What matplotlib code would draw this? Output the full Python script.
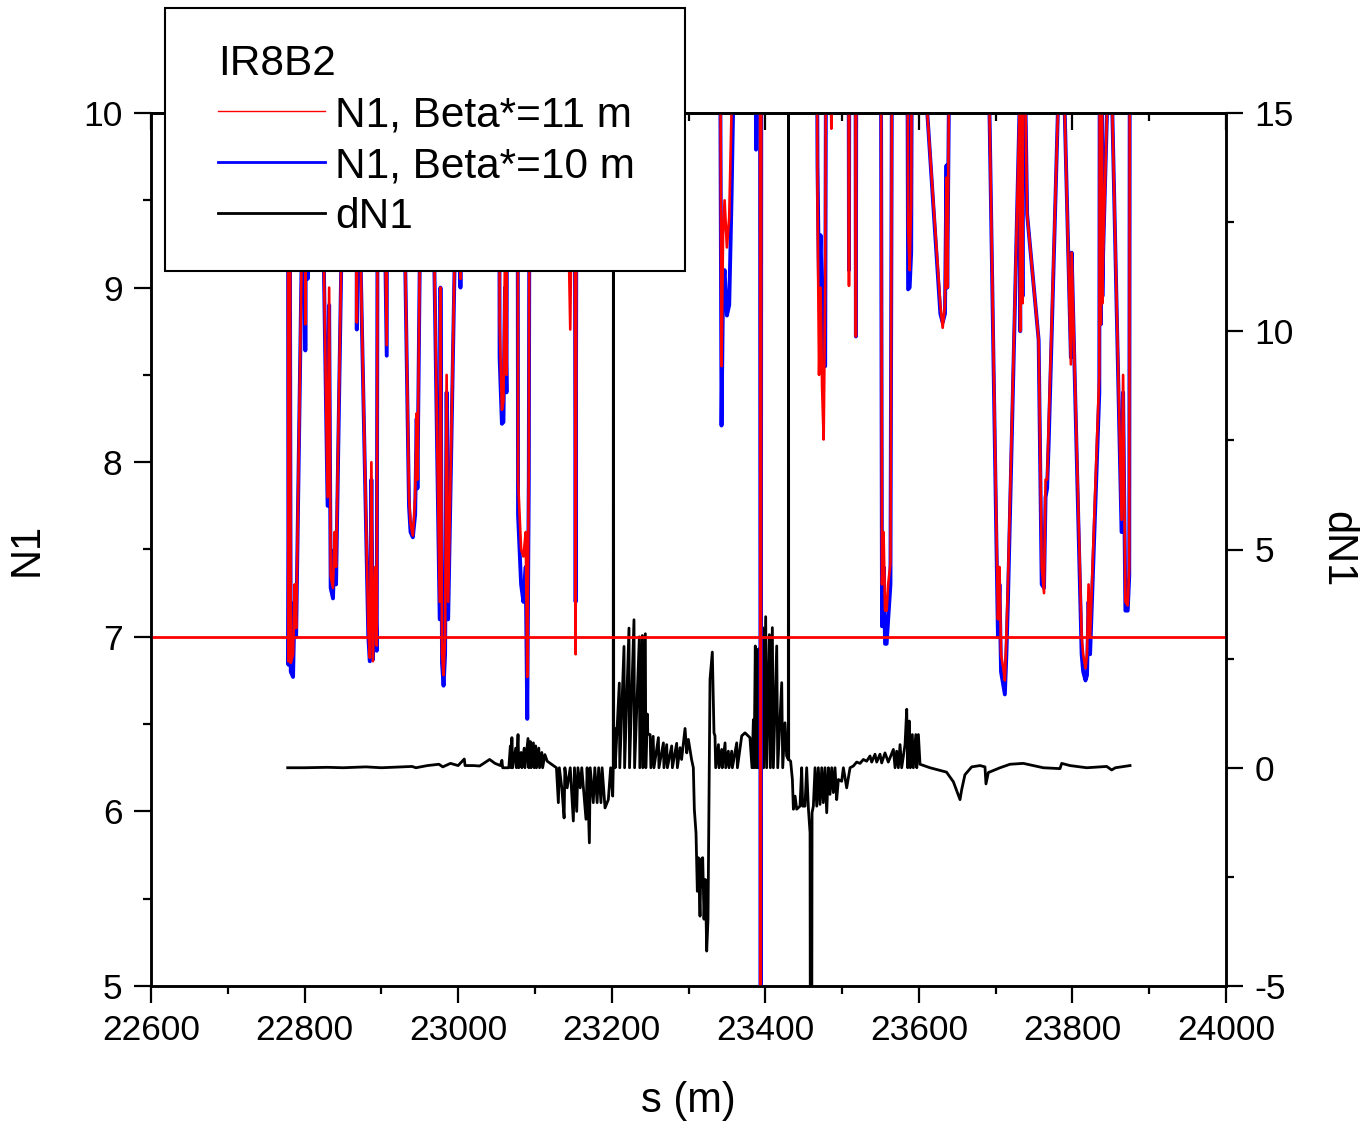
import matplotlib
matplotlib.use('Agg')
import matplotlib.pyplot as plt
from matplotlib.lines import Line2D
from matplotlib.patches import Rectangle
from matplotlib.ticker import MultipleLocator

plt.rcParams['font.family'] = ['Liberation Sans', 'DejaVu Sans']
plt.rcParams['axes.unicode_minus'] = False

# N1 along s; values above 10 are off scale (clipped at the top)
s_n1 = [
    22778, 22779, 22781, 22782, 22785, 22787, 22789, 22799, 22800, 22801, 22802, 22804, 22805,
    22822, 22830, 22832, 22834, 22837, 22839, 22841, 22851, 22852,
    22867, 22868, 22869, 22883, 22885, 22887, 22889, 22892, 22894, 22896, 22907, 22908,
    22928, 22936, 22938, 22941, 22944, 22946, 22947, 22952, 22953,
    22966, 22976, 22977, 22979, 22981, 22983, 22985, 22987, 22999, 23000, 23003, 23004,
    23053, 23054, 23057, 23059, 23061, 23063, 23065,
    23077, 23078, 23082, 23085, 23088, 23090, 23092, 23094,
    23138, 23141, 23146, 23149, 23151, 23153, 23155,
    23340, 23343, 23345, 23347, 23350, 23353, 23356, 23358, 23360,
    23387, 23388, 23389, 23393, 23394, 23395,
    23466, 23468, 23470, 23472, 23474, 23476, 23478, 23480, 23486, 23488,
    23508, 23509, 23510, 23517, 23518, 23519,
    23550, 23552, 23554, 23556, 23558, 23560, 23563, 23566,
    23584, 23586, 23588, 23590, 23592,
    23611, 23628, 23631, 23634, 23636, 23637, 23639, 23640,
    23692, 23703, 23705, 23707, 23710, 23712, 23714, 23716, 23731, 23732, 23733, 23735, 23736,
    23739, 23741, 23756, 23760, 23763, 23765, 23767, 23769, 23781, 23782,
    23790, 23798, 23799, 23812, 23814, 23817, 23819, 23821, 23823, 23835, 23836, 23837, 23838,
    23839, 23840, 23845, 23846,
    23852, 23864, 23866, 23869, 23872, 23874, 23875,
]
n1_beta11 = [
    12, 6.86, 9.3, 6.85, 6.90, 7.30, 7.05, 10.0, 12, 8.79, 12, 9.2, 12,
    10.0, 7.8, 9.0, 7.35, 7.28, 7.6, 7.4, 10.0, 12,
    12, 8.80, 10.0, 7.05, 6.88, 8.0, 6.86, 7.4, 6.95, 12, 8.67, 12,
    10.0, 7.8, 7.65, 7.58, 7.8, 8.28, 7.9, 10.0, 12,
    10.0, 7.2, 9.0, 6.9, 6.78, 7.0, 8.5, 7.2, 10.0, 12, 9.05, 12,
    12, 8.8, 8.30, 8.35, 9.2, 8.5, 12,
    12, 7.9, 7.5, 7.46, 7.6, 6.77, 8.0, 12,
    12, 10.0, 8.76, 10.0, 12, 6.90, 12,
    12, 8.55, 9.3, 9.5, 9.23, 9.4, 10.0, 12, 12,
    12, 12, 12, 12, 4.0, 12,
    12, 9.5, 8.5, 9.0, 8.43, 8.13, 9.0, 12, 9.91, 12,
    12, 9.01, 12, 12, 8.72, 12,
    12, 7.3, 7.6, 7.15, 7.15, 7.3, 7.42, 12,
    12, 9.35, 9.1, 9.5, 12,
    10.0, 8.9, 8.77, 8.9, 9.63, 9.0, 10.0, 12,
    10.0, 7.1, 7.4, 6.9, 6.82, 6.75, 7.0, 7.3, 10.0, 8.75, 12, 8.91, 12,
    10.0, 9.42, 8.7, 7.4, 7.25, 7.9, 7.9, 8.2, 10.0, 12,
    10.0, 8.56, 9.2, 7.0, 6.9, 6.82, 6.9, 7.3, 7.0, 8.5, 12, 8.79, 12,
    8.91, 9.2, 10.0, 12,
    10.0, 7.67, 8.5, 7.2, 7.18, 7.4, 12,
]
n1_beta10 = [
    12, 6.84, 9.1, 6.80, 6.77, 7.20, 7.00, 10.0, 12, 8.64, 12, 9.05, 12,
    10.0, 7.75, 8.9, 7.28, 7.22, 7.5, 7.3, 10.0, 12,
    12, 8.76, 10.0, 7.0, 6.86, 7.9, 6.87, 7.3, 6.92, 12, 8.61, 12,
    10.0, 7.75, 7.6, 7.57, 7.7, 8.25, 7.85, 10.0, 12,
    10.0, 7.1, 9.0, 6.85, 6.72, 6.9, 8.4, 7.1, 10.0, 12, 9.0, 12,
    12, 8.6, 8.22, 8.23, 9.0, 8.4, 12,
    12, 7.7, 7.3, 7.20, 7.4, 6.53, 7.9, 12,
    12, 12, 12, 12, 12, 7.20, 12,
    12, 8.21, 9.0, 9.1, 8.84, 8.9, 9.5, 10.0, 12,
    12, 9.79, 12, 12, 4.0, 12,
    12, 9.7, 9.0, 9.3, 8.9, 8.55, 8.55, 12, 12, 12,
    12, 9.1, 12, 12, 8.72, 12,
    12, 7.06, 7.4, 6.96, 6.96, 7.1, 7.3, 12,
    12, 8.99, 9.0, 9.2, 12,
    10.0, 8.85, 8.8, 8.85, 9.7, 9.0, 10.0, 12,
    10.0, 7.0, 7.3, 6.8, 6.72, 6.67, 6.9, 7.2, 10.0, 8.75, 12, 8.95, 12,
    10.0, 9.42, 8.7, 7.3, 7.28, 7.8, 7.85, 8.1, 10.0, 12,
    10.0, 8.6, 9.2, 6.9, 6.8, 6.75, 6.78, 7.2, 6.9, 8.4, 12, 8.79, 12,
    8.95, 9.2, 10.0, 12,
    10.0, 7.6, 8.4, 7.15, 7.15, 7.35, 12,
]

# dN1 along s (right axis)
s_dn1 = [
    22778, 22800, 22830, 22850, 22880, 22900, 22940, 22945, 22960, 22975, 22980, 22990,
    23000, 23008, 23009, 23020, 23028, 23041, 23048, 23055, 23057, 23058, 23066, 23068,
    23069, 23070, 23071, 23075, 23076, 23078, 23079, 23082, 23083, 23086, 23087, 23091,
    23092, 23094, 23095, 23098, 23099, 23101, 23102, 23105, 23106, 23109, 23110, 23113,
    23116, 23128,
    23130.5, 23131.8, 23135, 23138, 23139, 23142, 23146, 23150, 23151.5, 23154.4, 23156,
    23159, 23161, 23166.5, 23168, 23170.9, 23172, 23176, 23178, 23181, 23183, 23186,
    23187.5, 23191.3, 23195.6, 23198.6, 23201.3, 23202.0, 23202.2, 23202.6,
    23203.5, 23204.5, 23209.9, 23210.5, 23216.0, 23216.8, 23222.5, 23223.2, 23229.0,
    23229.8, 23236.0, 23236.6, 23239.9, 23240.5, 23243.8, 23244.4, 23246.4, 23247.0,
    23250, 23251, 23254, 23255, 23260.8, 23261.5, 23267.3, 23268, 23271.6, 23272.5,
    23278.1, 23279, 23284.6, 23285.5, 23289, 23291, 23295.5, 23297.7, 23299.8, 23304,
    23306.3,
    23307.6, 23309.8, 23311.5, 23312.8, 23315.0, 23316.3, 23318.5, 23320.2, 23322,
    23323.7, 23325.4, 23328.0, 23331.0, 23333.2,
    23334.5, 23335.4, 23339, 23339.8, 23343.2, 23344, 23347.6, 23348.5, 23351.9, 23352.8,
    23356.3, 23357.1, 23362.8, 23363.7, 23369.3, 23373.6, 23380, 23382.7,
    23384.5, 23385.4, 23387.0, 23388.3, 23389.7, 23391, 23393.1, 23394.4, 23396.6,
    23397.9, 23400.5, 23401.8, 23405.3, 23406.6, 23409.2, 23410.5, 23414.9, 23416.2,
    23421.4, 23422.7, 23425.7, 23427.8, 23430.0, 23430.2, 23430.5,
    23433, 23435.3, 23436.6, 23438.8, 23440.9, 23445.2, 23447.4, 23448.7, 23451.7,
    23453.9, 23456.1, 23458.3, 23459.6, 23460.9, 23462.6, 23464.8, 23467, 23469.1,
    23471.3, 23473.5, 23475.6, 23477.8, 23480, 23482.2, 23484.3, 23486.5, 23488.7,
    23490.8, 23493, 23495.2, 23499.5, 23501.7, 23506, 23510.4,
    23514.7, 23519, 23523.4, 23527.7, 23532, 23536.4, 23538.6, 23542.9, 23545.1, 23549.4,
    23551.6, 23555.9, 23560.2, 23566.8, 23569, 23571.1, 23573.3, 23575.5, 23577.6, 23582,
    23584.2, 23585.5, 23587.6, 23588.9, 23591.5, 23592.8, 23596, 23597.3, 23599.4,
    23601.5, 23614.5,
    23627.5, 23636, 23644.9, 23653.6, 23655.8, 23660, 23668.8, 23679.6, 23686.1, 23687.4,
    23690.5, 23705.7, 23718.7, 23736, 23762, 23783.8, 23786, 23796.8, 23818.6, 23844.6,
    23851.1, 23856, 23875,
]
dn1 = [
    0.0, 0.0, 0.01, 0.0, 0.02, 0.0, 0.03, 0.0, 0.05, 0.08, 0.02, 0.1,
    0.05, 0.2, 0.05, 0.05, 0.04, 0.19, 0.10, 0.05, 0.17, 0.0, 0.0, 0.50,
    0.0, 0.69, 0.0, 0.45, 0.0, 0.76, 0.0, 0.35, 0.0, 0.45, 0.0, 0.67,
    0.0, 0.6, 0.0, 0.57, 0.0, 0.5, 0.0, 0.45, 0.0, 0.35, 0.0, 0.3,
    0.15, 0.0,
    -0.8, 0.0, -0.46, -1.15, 0.0, -0.46, 0.0, -1.22, 0.0, -1.0, 0.0,
    -0.46, 0.0, -1.18, 0.0, -1.72, 0.0, -0.8, 0.0, -0.8, 0.0, -0.8,
    0.0, -0.92, -0.73, 0.0, -0.65, 0.0, 20.0, 0.0,
    0.91, 0.0, 1.94, 0.0, 2.78, 0.0, 3.2, 0.0, 3.39,
    0.0, 3.0, 0.0, 3.03, 0.0, 3.07, 0.0, 1.23, 0.77,
    0.76, 0.0, 0.72, 0.0, 0.69, 0.0, 0.57, 0.0, 0.53, 0.0,
    0.5, 0.0, 0.56, 0.0, 0.46, 0.19, 0.9, 0.34, 0.65, 0.19,
    0.0,
    -0.95, -1.5, -2.83, -2.06, -3.4, -2.1, -2.06, -3.47, -2.56,
    -4.2, -3.47, 2.02, 2.65, 0.8,
    0.73, 0.0, 0.53, 0.0, 0.42, 0.0, 0.57, 0.0, 0.38, 0.0,
    0.38, 0.0, 0.57, 0.0, 0.73, 0.8, 0.69, 0.0,
    1.1, 0.0, 2.79, 0.0, 2.71, 0.0, 2.75, 0.0, 3.21,
    0.0, 3.46, 0.0, 3.05, 0.0, 3.21, 0.0, 2.79, 0.0,
    1.95, 0.0, 1.03, 0.27, 0.19, 20.0, 0.19,
    0.15, -0.27, -0.95, -0.65, -0.95, -0.88, 0.0, -0.88, -0.88,
    0.0, -0.92, -1.49, -20.0, -1.03, -0.88, 0.0, -0.88, 0.0,
    -0.84, 0.0, -0.8, 0.0, -1.03, 0.0, -0.61, 0.0, -0.57,
    0.0, -0.73, -0.27, -0.31, 0.0, -0.46, 0.0,
    0.04, 0.13, 0.1, 0.19, 0.15, 0.27, 0.13, 0.31, 0.13, 0.31,
    0.11, 0.34, 0.13, 0.42, 0.0, 0.38, 0.0, 0.53, 0.0, 0.53,
    1.34, 0.0, 1.07, 0.0, 0.76, 0.0, 0.76, 0.0, 0.76,
    0.08, 0.0,
    -0.06, -0.1, -0.32, -0.73, -0.5, -0.16, 0.02, 0.05, 0.02, -0.37,
    -0.11, 0.0, 0.08, 0.1, 0.0, -0.02, 0.1, 0.05, 0.0, 0.03,
    -0.05, 0.0, 0.05,
]

n1_limit = 7.0

fig = plt.figure(figsize=(13.63, 11.24), dpi=100)
ax = fig.add_axes([151/1363, 1-986/1124, 1075/1363, 873/1124])
ax2 = ax.twinx()
ax.set_zorder(ax2.get_zorder() + 1)
ax.patch.set_visible(False)

ax2.plot(s_dn1, dn1, color='black', lw=2.0)
ax.plot(s_n1, n1_beta10, color='#0000ff', lw=2.8)
ax.plot(s_n1, n1_beta11, color='#ff0000', lw=1.9)
ax.axhline(n1_limit, color='#ff0000', lw=2.0)

ax.set_xlim(22600, 24000)
ax.set_ylim(5, 10)
ax2.set_ylim(-5, 15)

ax.xaxis.set_major_locator(MultipleLocator(200))
ax.xaxis.set_minor_locator(MultipleLocator(100))
ax.yaxis.set_major_locator(MultipleLocator(1))
ax.yaxis.set_minor_locator(MultipleLocator(0.5))
ax2.yaxis.set_major_locator(MultipleLocator(5))
ax2.yaxis.set_minor_locator(MultipleLocator(2.5))

for a in (ax, ax2):
    for sp in a.spines.values():
        sp.set_linewidth(1.8)
    a.tick_params(which='major', length=12.5, width=1.6, labelsize=25.5, pad=8)
    a.tick_params(which='minor', length=6, width=1.6)
ax.tick_params(axis='both', which='both', direction='out')
ax2.tick_params(axis='y', which='both', direction='out')

top = ax.secondary_xaxis('top')
top.xaxis.set_major_locator(MultipleLocator(200))
top.xaxis.set_minor_locator(MultipleLocator(100))
top.tick_params(which='major', direction='in', length=12.5, width=1.6, labeltop=False)
top.tick_params(which='minor', direction='in', length=6, width=1.6)
top.spines['top'].set_linewidth(1.8)

ax.set_xlabel('s (m)', fontsize=30, labelpad=24)
ax.set_ylabel('N1', fontsize=30, labelpad=26)
ax2.set_ylabel('dN1', fontsize=30, rotation=270, labelpad=46)

# legend frame drawn as its own box (white, black edge)
box = Rectangle((165/1363, 1-271/1124), 520/1363, 263/1124, transform=fig.transFigure,
                facecolor='white', edgecolor='black', lw=1.5, zorder=4, clip_on=False)
ax.add_artist(box)

handles = [
    Line2D([], [], color='#ff0000', lw=1.0),
    Line2D([], [], color='#0000ff', lw=2.0),
    Line2D([], [], color='black', lw=2.0),
]
labels = ['N1, Beta*=11 m', 'N1, Beta*=10 m', 'dN1']
leg = ax.legend(handles, labels, title='IR8B2', loc='upper left',
                bbox_to_anchor=(218/1363, 1-44/1124), bbox_transform=fig.transFigure,
                borderaxespad=0, fontsize=30.5, title_fontsize=30.5, frameon=False,
                handlelength=2.52, handletextpad=0.25, labelspacing=0.26, borderpad=0)
leg.set_zorder(5)
leg._legend_box.align = 'left'

fig.savefig('out.png', dpi=100)
plt.close(fig)
